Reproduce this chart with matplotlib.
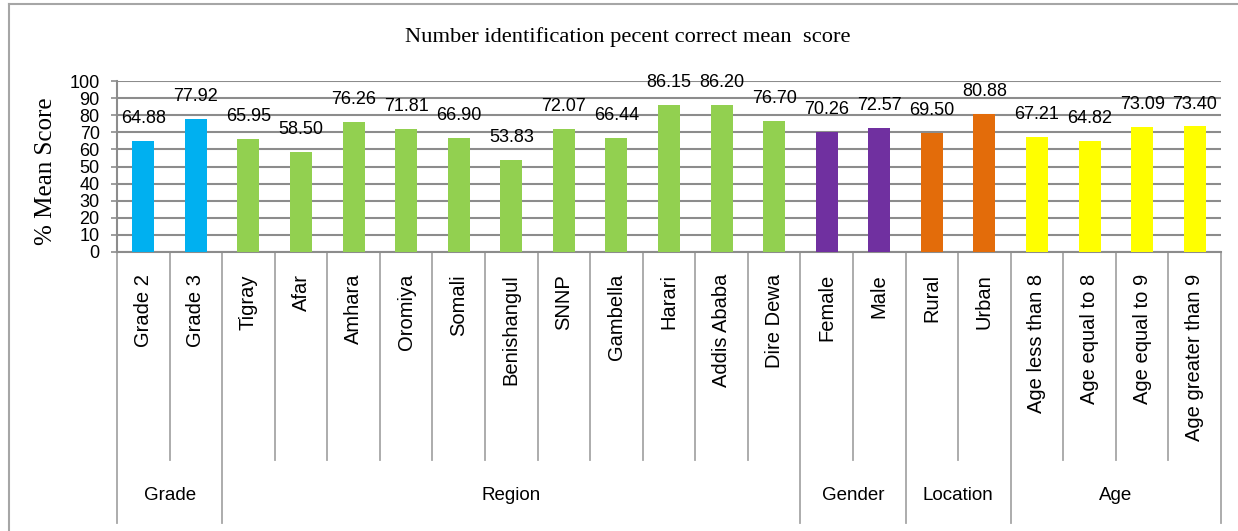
import matplotlib
matplotlib.use('Agg')
import matplotlib.pyplot as plt
import matplotlib.transforms as mtransforms
import numpy as np

# data
categories = ['Grade 2', 'Grade 3', 'Tigray', 'Afar', 'Amhara', 'Oromiya', 'Somali',
              'Benishangul', 'SNNP', 'Gambella', 'Harari', 'Addis Ababa', 'Dire Dewa',
              'Female', 'Male', 'Rural', 'Urban', 'Age less than 8', 'Age equal to 8',
              'Age equal to 9', 'Age greater than 9']
scores = [64.88, 77.92, 65.95, 58.50, 76.26, 71.81, 66.90, 53.83, 72.07, 66.44,
          86.15, 86.20, 76.70, 70.26, 72.57, 69.50, 80.88, 67.21, 64.82, 73.09, 73.40]
groups = ['Grade', 'Region', 'Gender', 'Location', 'Age']
group_sizes = [2, 11, 2, 2, 4]
group_colors = ['#00B0F0', '#92D050', '#7030A0', '#E36C0A', '#FFFF00']

SANS = ['Liberation Sans', 'DejaVu Sans']
SERIF = ['Liberation Serif', 'DejaVu Serif']

W, H = 1238, 531
fig = plt.figure(figsize=(W / 100, H / 100), dpi=100)
x0, x1, ytop, ybot = 117, 1221, 81, 252
ax = fig.add_axes([x0 / W, (H - ybot) / H, (x1 - x0) / W, (ybot - ytop) / H])

colors = []
for c, n in zip(group_colors, group_sizes):
    colors += [c] * n

x = np.arange(len(categories))
ax.bar(x, scores, width=0.42, color=colors, zorder=3)
for xi, v in zip(x, scores):
    ax.annotate(f'{v:.2f}', (xi, v), xytext=(0, 10), textcoords='offset points',
                ha='center', va='bottom', fontsize=13, family=SANS)

ax.set_xlim(-0.5, len(categories) - 0.5)
ax.set_ylim(0, 100)
ax.set_yticks(range(0, 101, 10))
ax.yaxis.grid(True, color='#8C8C8C', linewidth=1.5, zorder=0)
ax.set_xticks([])
for lbl in ax.get_yticklabels():
    lbl.set_family(SANS)
    lbl.set_fontsize(13)
ax.tick_params(axis='y', length=4.5, width=1.2, color='#8C8C8C', pad=8)
for s in ['top', 'right']:
    ax.spines[s].set_visible(False)
for s in ['left', 'bottom']:
    ax.spines[s].set_color('#8C8C8C')
    ax.spines[s].set_linewidth(1.5)
ax.set_ylabel('% Mean Score', family=SERIF, fontsize=18)
ax.yaxis.set_label_coords(-0.054, 0.47)

# multi-level category axis
trans = mtransforms.blended_transform_factory(ax.transData, ax.transAxes)
hgt = ybot - ytop
y_cat = (ybot - 460) / hgt
y_grp = (ybot - 523) / hgt
y_lbl = (ybot - 274) / hgt
y_glbl = (ybot - 496) / hgt

bounds = np.cumsum([0] + group_sizes) - 0.5
for b in np.arange(len(categories) + 1) - 0.5:
    yend = y_grp if b in bounds else y_cat
    ax.plot([b, b], [0, yend], transform=trans, color='#A6A6A6', lw=1.3, clip_on=False)

for xi, name in zip(x, categories):
    ax.text(xi, y_lbl, name, transform=trans, rotation=90, ha='center', va='top',
            fontsize=14.5, family=SANS)

for g, a, b in zip(groups, bounds[:-1], bounds[1:]):
    ax.text((a + b) / 2, y_glbl, g, transform=trans, ha='center', va='center',
            fontsize=13.5, family=SANS)

fig.text(628 / W, 1 - 37 / H, 'Number identification pecent correct mean  score',
         ha='center', va='center', fontsize=16.2, family=SERIF)

# outer chart frame (top and left edges visible)
fig.add_artist(plt.Line2D([9 / W, 1], [1 - 4 / H, 1 - 4 / H], color='#A6A6A6', lw=1.5))
fig.add_artist(plt.Line2D([9 / W, 9 / W], [0, 1 - 4 / H], color='#A6A6A6', lw=1.5))

plt.savefig('out.png', dpi=100)
